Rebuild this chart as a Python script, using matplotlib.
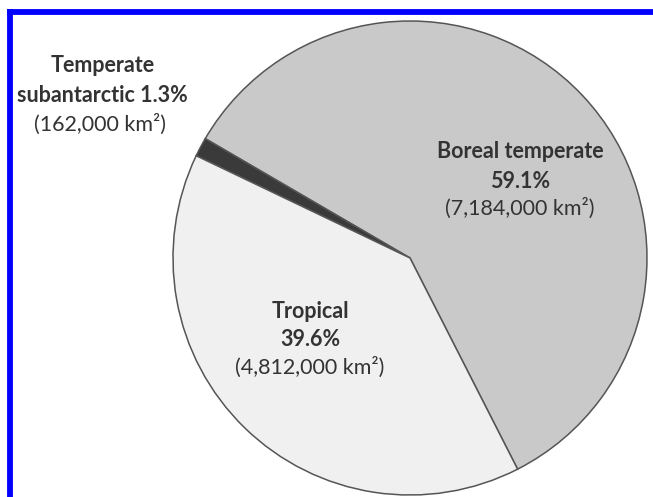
import matplotlib
matplotlib.use('Agg')
import matplotlib.pyplot as plt
from matplotlib.lines import Line2D

# slices, counterclockwise from the start angle
names = ['Boreal temperate', 'Temperate subantarctic', 'Tropical']
shares = [59.1, 1.3, 39.6]
areas = ['7,184,000', '162,000', '4,812,000']
colours = ['#c9c9c9', '#3a3a3a', '#f0f0f0']

W, H = 653, 497

fig = plt.figure(figsize=(W / 100, H / 100), dpi=100)
ax = fig.add_axes([0, 0, 1, 1])

ax.pie(shares, colors=colours, startangle=-63, counterclock=True,
       center=(410, H - 258), radius=237, frame=True,
       wedgeprops=dict(edgecolor='#555555', linewidth=1.1))
ax.set_xlim(0, W)
ax.set_ylim(0, H)
ax.set_aspect('equal')
ax.axis('off')

bold = dict(family='Lato', fontweight='bold', fontsize=15.5, color='#333333',
            ha='center', va='center')
reg = dict(family='Lato', fontsize=15.5, color='#333333',
           ha='center', va='center')

# boreal
ax.text(520, H - 152, names[0], **bold)
ax.text(520, H - 181, '%.1f%%' % shares[0], **bold)
ax.text(520, H - 208, '(%s km\u00b2)' % areas[0], **reg)
# tropical
ax.text(310, H - 311, names[2], **bold)
ax.text(310, H - 340, '%.1f%%' % shares[2], **bold)
ax.text(310, H - 367, '(%s km\u00b2)' % areas[2], **reg)
# subantarctic
ax.text(103, H - 65, 'Temperate', **bold)
ax.text(102, H - 96, 'subantarctic %.1f%%' % shares[1], **bold)
ax.text(100, H - 124, '(%s km\u00b2)' % areas[1], **reg)

# blue frame on the left and top
fig.add_artist(Line2D([9.5 / W, 9.5 / W], [0, 1 - 11.5 / H], color='#0000ff',
                      linewidth=4.2, transform=fig.transFigure, solid_capstyle='projecting'))
fig.add_artist(Line2D([9.5 / W, 1], [1 - 11.5 / H, 1 - 11.5 / H], color='#0000ff',
                      linewidth=4.2, transform=fig.transFigure, solid_capstyle='projecting'))

fig.savefig('out.png', dpi=100, facecolor='white')
